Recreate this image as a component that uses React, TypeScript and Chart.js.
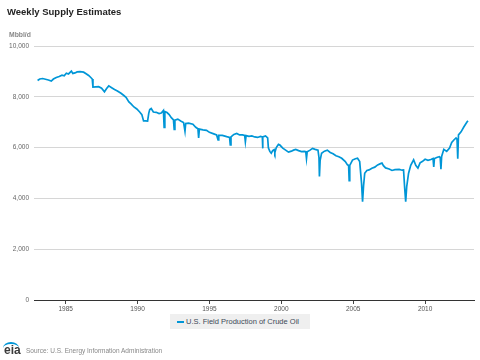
import React, { useEffect, useRef } from "react";
import { Chart, registerables } from "chart.js";

Chart.register(...registerables);

const years: number[] = [
  1983.05, 1983.2, 1983.4, 1983.6, 1983.8, 1984.0, 1984.15, 1984.35, 1984.55, 1984.75, 1984.9,
  1985.05, 1985.2, 1985.4, 1985.5, 1985.65, 1985.8, 1986.0, 1986.25, 1986.45, 1986.6, 1986.75,
  1986.85, 1986.9, 1987.1, 1987.3, 1987.5, 1987.7, 1987.85, 1988.0, 1988.2, 1988.4, 1988.6,
  1988.85, 1989.05, 1989.2, 1989.4, 1989.55, 1989.75, 1989.95, 1990.15, 1990.3, 1990.42, 1990.55,
  1990.7, 1990.78, 1990.85, 1990.95, 1991.1, 1991.3, 1991.5, 1991.65, 1991.8, 1991.85, 1991.9,
  1992.05, 1992.2, 1992.35, 1992.5, 1992.55, 1992.6, 1992.8, 1993.0, 1993.2, 1993.3, 1993.35,
  1993.55, 1993.85, 1994.05, 1994.2, 1994.25, 1994.3, 1994.55, 1994.8, 1995.0, 1995.3, 1995.5,
  1995.6, 1995.65, 1995.9, 1996.2, 1996.4, 1996.45, 1996.5, 1996.7, 1996.9, 1997.1, 1997.3,
  1997.45, 1997.5, 1997.55, 1997.75, 1997.95, 1998.15, 1998.35, 1998.55, 1998.68, 1998.7, 1998.72,
  1998.9, 1999.05, 1999.1, 1999.2, 1999.3, 1999.4, 1999.5, 1999.55, 1999.65, 1999.8, 1999.9,
  2000.1, 2000.3, 2000.5, 2000.7, 2000.85, 2001.0, 2001.2, 2001.4, 2001.6, 2001.7, 2001.75,
  2001.8, 2002.0, 2002.17, 2002.35, 2002.55, 2002.62, 2002.65, 2002.7, 2002.8, 2003.0, 2003.2,
  2003.4, 2003.6, 2003.8, 2004.0, 2004.2, 2004.45, 2004.6, 2004.68, 2004.72, 2004.76, 2004.95,
  2005.15, 2005.3, 2005.45, 2005.58, 2005.65, 2005.72, 2005.8, 2005.95, 2006.1, 2006.3, 2006.5,
  2006.7, 2006.9, 2007.0, 2007.1, 2007.25, 2007.5, 2007.7, 2007.9, 2008.2, 2008.4, 2008.5,
  2008.58, 2008.65, 2008.72, 2008.85, 2009.0, 2009.2, 2009.35, 2009.5, 2009.65, 2009.8, 2010.0,
  2010.2, 2010.4, 2010.55, 2010.6, 2010.65, 2010.85, 2011.0, 2011.05, 2011.1, 2011.15, 2011.3,
  2011.5, 2011.7, 2011.85, 2012.0, 2012.15, 2012.22, 2012.27, 2012.32, 2012.5, 2012.7, 2012.9,
  2012.98,
];

const production: number[] = [
  8640, 8700, 8720, 8690, 8660, 8620, 8700, 8760, 8800, 8850, 8830,
  8930, 8900, 9010, 8920, 8940, 8980, 8990, 8970, 8900, 8840, 8760,
  8700, 8380, 8390, 8400, 8340, 8200, 8330, 8430, 8360, 8290, 8230,
  8140, 8050, 7980, 7800, 7720, 7600, 7520, 7400, 7300, 7050, 7050,
  7040, 7350, 7500, 7540, 7400, 7390, 7340, 7360, 7460, 6800, 7420,
  7380, 7300, 7180, 7090, 6720, 7080, 7120, 7050, 6990, 6640, 6950,
  6960, 6920, 6800, 6740, 6380, 6730, 6700, 6680, 6600, 6540, 6500,
  6300, 6480, 6480, 6430, 6400, 6110, 6420, 6520, 6560, 6500, 6500,
  6480, 6230, 6470, 6440, 6460, 6420, 6400, 6440, 6420, 5970, 6420,
  6460, 6380, 5990, 5850, 5780, 5880, 5920, 5800, 6000, 6130, 6100,
  5980, 5900, 5820, 5860, 5900, 5930, 5880, 5840, 5850, 5840, 5570,
  5840, 5900, 5970, 5930, 5900, 5600, 4860, 5500, 5780, 5860, 5900,
  5810, 5760, 5680, 5640, 5580, 5450, 5320, 5300, 4700, 5300, 5510,
  5560, 5580, 5450, 4590, 3870, 4500, 4990, 5100, 5120, 5190, 5230,
  5320, 5370, 5390, 5290, 5200, 5160, 5100, 5130, 5140, 5110, 5120,
  4400, 3870, 4460, 4990, 5300, 5520, 5300, 5190, 5400, 5450, 5540,
  5500, 5530, 5570, 5240, 5570, 5620, 5640, 5600, 5150, 5650, 5930,
  5850, 5980, 6200, 6300, 6380, 6330, 5560, 6500, 6620, 6820, 7000,
  7060,
];

const xTickYears: number[] = [1985, 1990, 1995, 2000, 2005, 2010];
const yTickValues: number[] = [0, 2000, 4000, 6000, 8000, 10000];
const seriesName = "U.S. Field Production of Crude Oil";
const LINE_COLOR = "rgb(0,150,215)";
const FONT = "'Liberation Sans', Arial, sans-serif";

export default function App() {
  const canvasRef = useRef<HTMLCanvasElement | null>(null);

  useEffect(() => {
    document.body.style.margin = "0";
    const canvas = canvasRef.current;
    if (!canvas) return;
    const chart = new Chart(canvas, {
      type: "line",
      data: {
        datasets: [
          {
            label: seriesName,
            data: years.map((x, i) => ({ x, y: production[i] })),
            borderColor: LINE_COLOR,
            backgroundColor: LINE_COLOR,
            borderWidth: 1.7,
            pointRadius: 0,
            fill: false,
            tension: 0,
          },
        ],
      },
      options: {
        responsive: false,
        animation: false,
        locale: "en-US",
        layout: { padding: { top: 46, right: 6, left: 0, bottom: 0 } },
        plugins: {
          legend: { display: false },
          tooltip: { enabled: false },
          title: { display: false },
        },
        scales: {
          x: {
            type: "linear",
            min: 1982.8,
            max: 2013.4,
            afterBuildTicks: (s: any) => {
              s.ticks = xTickYears.map((v) => ({ value: v }));
            },
            afterFit: (s: any) => {
              s.height = 60;
            },
            ticks: {
              autoSkip: false,
              maxRotation: 0,
              padding: 1,
              color: "#555",
              font: { family: FONT, size: 6.5 },
              callback: (v: any) => String(v),
            },
            grid: {
              drawOnChartArea: false,
              drawTicks: true,
              tickLength: 4,
              color: "#444",
            },
            border: { display: true, color: "#333", width: 1 },
          },
          y: {
            min: 0,
            max: 10000,
            afterBuildTicks: (s: any) => {
              s.ticks = yTickValues.map((v) => ({ value: v }));
            },
            afterFit: (s: any) => {
              s.width = 34;
            },
            ticks: {
              padding: 5,
              color: "#666",
              font: { family: FONT, size: 6.5 },
              callback: (v: any) => Number(v).toLocaleString("en-US"),
            },
            grid: { color: "#d6d6d6", drawTicks: false, lineWidth: 1 },
            border: { display: false },
          },
        },
      },
    });
    return () => chart.destroy();
  }, []);

  return (
    <div style={{ position: "relative", width: 480, height: 360, fontFamily: FONT, background: "#fff" }}>
      <canvas ref={canvasRef} width={480} height={360} style={{ position: "absolute", left: 0, top: 0 }} />
      <div style={{ position: "absolute", left: 7, top: 6, fontSize: 9.5, fontWeight: "bold", color: "#222", whiteSpace: "nowrap" }}>
        Weekly Supply Estimates
      </div>
      <div style={{ position: "absolute", left: 9, top: 31, fontSize: 6.8, fontWeight: "bold", color: "#888", whiteSpace: "nowrap" }}>
        Mbbl/d
      </div>
      <div
        style={{
          position: "absolute",
          left: 170,
          top: 314,
          width: 140,
          height: 15,
          background: "#efefef",
        }}
      >
        <div style={{ position: "absolute", left: 7, top: 7, width: 7, height: 2, background: LINE_COLOR }} />
        <div style={{ position: "absolute", left: 16, top: 3, fontSize: 7.5, color: "#3d4a57", whiteSpace: "nowrap", lineHeight: "9px" }}>
          {seriesName}
        </div>
      </div>
      <div style={{ position: "absolute", left: 3, top: 340, width: 20, height: 18 }}>
        <div
          style={{
            position: "absolute",
            left: 0,
            top: 2,
            width: 16,
            height: 10,
            borderTop: "2px solid " + LINE_COLOR,
            borderRadius: "50%",
          }}
        />
        <div style={{ position: "absolute", left: 1, top: 3, fontSize: 12, fontWeight: "bold", color: "#3b3b3b", lineHeight: "14px" }}>
          eia
        </div>
      </div>
      <div style={{ position: "absolute", left: 26, top: 347, fontSize: 6.5, color: "#888", whiteSpace: "nowrap", lineHeight: "8px" }}>
        Source: U.S. Energy Information Administration
      </div>
    </div>
  );
}
